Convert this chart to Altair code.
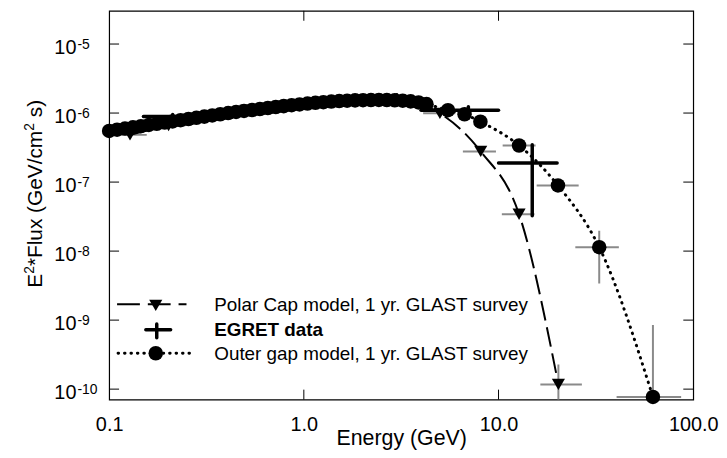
import altair as alt
import pandas as pd

# ---------------- data ----------------
# Outer gap model, 1 yr. GLAST survey (circles, dotted line)
og_E = [0.1, 0.1098, 0.1206, 0.1325, 0.1455, 0.1599, 0.1756, 0.1929, 0.2118, 0.2327,
        0.2556, 0.2807, 0.3083, 0.3386, 0.3720, 0.4086, 0.4487, 0.4929, 0.5414, 0.5947,
        0.6531, 0.7174, 0.7880, 0.8655, 0.9506, 1.044, 1.147, 1.260, 1.384, 1.520,
        1.669, 1.833, 2.014, 2.212, 2.429, 2.668, 2.931, 3.219, 3.536, 3.884,
        4.266, 5.5, 6.69, 8.07, 12.75, 20.2, 32.9, 62.1]
og_F = [5.51e-7, 5.74e-7, 5.97e-7, 6.21e-7, 6.46e-7, 6.72e-7, 6.99e-7, 7.28e-7, 7.57e-7, 7.88e-7,
        8.20e-7, 8.53e-7, 8.88e-7, 9.24e-7, 9.61e-7, 1.00e-6, 1.037e-6, 1.072e-6, 1.108e-6, 1.145e-6,
        1.184e-6, 1.224e-6, 1.260e-6, 1.299e-6, 1.334e-6, 1.374e-6, 1.406e-6, 1.439e-6, 1.468e-6, 1.492e-6,
        1.512e-6, 1.527e-6, 1.537e-6, 1.543e-6, 1.548e-6, 1.543e-6, 1.532e-6, 1.512e-6, 1.477e-6, 1.424e-6,
        1.347e-6, 1.10e-6, 9.6e-7, 7.5e-7, 3.39e-7, 8.93e-8, 1.14e-8, 7.7e-11]

# Polar Cap model, 1 yr. GLAST survey (triangles, dashed line)
pc_E = [0.128, 0.202, 0.32, 0.505, 0.80, 1.27, 2.01, 3.18, 5.0, 8.1, 12.75, 20.3]
pc_F = [4.83e-7, 6.61e-7, 8.62e-7, 1.09e-6, 1.26e-6, 1.415e-6, 1.54e-6, 1.51e-6,
        9.9e-7, 2.78e-7, 3.42e-8, 1.17e-10]
pc_Elo = [0.105, 0.166, 0.263, 0.415, 0.658, 1.044, 1.653, 2.615, 4.1, 6.56, 10.4, 16.4]
pc_Ehi = [0.156, 0.246, 0.389, 0.614, 0.973, 1.544, 2.444, 3.867, 6.0, 9.7, 15.3, 26.8]

# Outer gap simulated-survey error bars (horizontal)
ogb_E_lo = [10.5, 15.7, 24.8, 40.4]
ogb_E_hi = [15.5, 25.8, 41.5, 86.7]
ogb_F = [3.39e-7, 8.93e-8, 1.14e-8, 7.7e-11]

# vertical survey error bars
vb_E = [20.3, 32.9, 62.1]
vb_lo = [1e-11, 3.38e-9, 1e-11]
vb_hi = [2.28e-10, 1.97e-8, 8.5e-10]

# EGRET data
eg_E = [0.212, 0.387, 0.707, 1.41, 3.0, 7.0, 14.9]
eg_Elo = [0.15, 0.3, 0.5, 1.0, 2.0, 4.0, 10.0]
eg_Ehi = [0.3, 0.5, 1.0, 2.0, 4.0, 10.0, 20.0]
eg_F = [8.9e-7, 1.0e-6, 1.2e-6, 1.45e-6, 1.6e-6, 1.10e-6, 1.89e-7]
eg_Flo = [8.3e-7, 9.4e-7, 1.13e-6, 1.37e-6, 1.4e-6, 9.8e-7, 3.24e-8]
eg_Fhi = [9.5e-7, 1.06e-6, 1.27e-6, 1.53e-6, 1.85e-6, 1.23e-6, 3.47e-7]

# axes
x_ticks = [0.1, 1.0, 10.0, 100.0]
x_inner_ticks = [1.0, 10.0]
y_ticks = [1e-10, 1e-9, 1e-8, 1e-7, 1e-6, 1e-5]
y_exps = ["-10", "-9", "-8", "-7", "-6", "-5"]

# y title pieces: (text, is_superscript)
y_title_parts = [("E", False), ("2", True), ("*Flux (GeV/cm", False), ("2", True), (" s)", False)]

legend_labels = ["Polar Cap model, 1 yr. GLAST survey", "EGRET data",
                 "Outer gap model, 1 yr. GLAST survey"]

# ---------------- chart ----------------
W, H = 589, 392
FONT = "Liberation Sans"
GRAY = "#8a8a8a"
CIRCLE = 215
TRI = 175

og = pd.DataFrame({"E": og_E, "F": og_F})
pc = pd.DataFrame({"E": pc_E, "F": pc_F, "Elo": pc_Elo, "Ehi": pc_Ehi})
ogb = pd.DataFrame({"Elo": ogb_E_lo, "Ehi": ogb_E_hi, "F": ogb_F})
vb = pd.DataFrame({"E": vb_E, "lo": vb_lo, "hi": vb_hi})
eg = pd.DataFrame({"E": eg_E, "Elo": eg_Elo, "Ehi": eg_Ehi, "F": eg_F,
                   "Flo": eg_Flo, "Fhi": eg_Fhi})
yt = pd.DataFrame({"v": y_ticks, "exp": y_exps})
xt = pd.DataFrame({"v": x_inner_ticks})
one = pd.DataFrame({"i": [0]})

xs = alt.Scale(type="log", domain=[0.1, 100])
ys = alt.Scale(type="log", domain=[10 ** -10.151, 10 ** -4.519])
xaxis = alt.Axis(values=x_ticks, labelExpr="format(datum.value, '.1f')",
                 domain=False, ticks=False, tickSize=0, grid=False, labelFlush=False,
                 labelOverlap=False, labelFont=FONT, labelFontSize=20, labelColor="black",
                 labelPadding=15, title="Energy (GeV)", titleFont=FONT, titleFontSize=21.5,
                 titleFontWeight="normal", titleColor="black", titlePadding=-7)


def X(f):
    return alt.X(f"{f}:Q", scale=xs, axis=xaxis)


def Y(f):
    return alt.Y(f"{f}:Q", scale=ys, axis=None)


layers = []

# gray error bars
layers.append(alt.Chart(pc).mark_rule(color=GRAY, strokeWidth=2, clip=True).encode(
    x=X("Elo"), x2="Ehi:Q", y=Y("F")))
layers.append(alt.Chart(ogb).mark_rule(color=GRAY, strokeWidth=2, clip=True).encode(
    x=X("Elo"), x2="Ehi:Q", y=Y("F")))
layers.append(alt.Chart(vb).mark_rule(color=GRAY, strokeWidth=2, clip=True).encode(
    x=X("E"), y=Y("lo"), y2="hi:Q"))

# EGRET crosses
layers.append(alt.Chart(eg).mark_rule(color="black", strokeWidth=3.5, strokeCap="round").encode(
    x=X("Elo"), x2="Ehi:Q", y=Y("F")))
layers.append(alt.Chart(eg).mark_rule(color="black", strokeWidth=3.5, strokeCap="round").encode(
    x=X("E"), y=Y("Flo"), y2="Fhi:Q"))

# model lines
layers.append(alt.Chart(pc).mark_line(color="black", strokeWidth=2, strokeDash=[20, 7],
                                      interpolate="monotone").encode(x=X("E"), y=Y("F")))
layers.append(alt.Chart(og).mark_line(color="black", strokeWidth=3, strokeDash=[0.5, 6],
                                      strokeCap="round", interpolate="monotone").encode(
    x=X("E"), y=Y("F")))

# markers
layers.append(alt.Chart(pc).mark_point(shape="triangle-down", filled=True, size=TRI,
                                       color="black", opacity=1).encode(x=X("E"), y=Y("F")))
layers.append(alt.Chart(og).mark_circle(size=CIRCLE, color="black", opacity=1).encode(
    x=X("E"), y=Y("F")))

# inward ticks
layers.append(alt.Chart(yt).mark_rule(color="black", strokeWidth=1).encode(
    y=Y("v"), x=alt.value(0), x2=alt.value(10)))
layers.append(alt.Chart(yt).mark_rule(color="black", strokeWidth=1).encode(
    y=Y("v"), x=alt.value(W), x2=alt.value(W - 10)))
layers.append(alt.Chart(xt).mark_rule(color="black", strokeWidth=1).encode(
    x=X("v"), y=alt.value(H), y2=alt.value(H - 10)))
layers.append(alt.Chart(xt).mark_rule(color="black", strokeWidth=1).encode(
    x=X("v"), y=alt.value(0), y2=alt.value(10)))

# y tick labels 10^n
layers.append(alt.Chart(yt).mark_text(font=FONT, fontSize=20, align="right",
                                      baseline="alphabetic", dy=10, color="black").encode(
    y=Y("v"), x=alt.value(-33), text=alt.value("10")))
layers.append(alt.Chart(yt).mark_text(font=FONT, fontSize=14, align="left",
                                      baseline="alphabetic", dy=5, color="black").encode(
    y=Y("v"), x=alt.value(-32), text="exp:N"))

# y title, built from pieces so the superscripts keep a readable size
# advance widths of Liberation Sans (Arial metrics), units per 1000 em
ADV = {"E": 667, "2": 556, "*": 389, "F": 611, "l": 222, "u": 556, "x": 500, " ": 278,
       "(": 333, "G": 778, "e": 556, "V": 667, "/": 278, "c": 500, "m": 833, "s": 500, ")": 333}
MAIN_FS, SUP_FS = 21, 14
widths = [sum(ADV[c] for c in t) * (SUP_FS if sup else MAIN_FS) / 1000 for t, sup in y_title_parts]
pos = 184.5 + sum(widths) / 2
for (t, sup), w in zip(y_title_parts, widths):
    fs = SUP_FS if sup else MAIN_FS
    lead = (len(t) - len(t.lstrip())) * ADV[" "] * fs / 1000
    layers.append(alt.Chart(one).mark_text(font=FONT, fontSize=fs,
                                           angle=270, align="left", baseline="alphabetic",
                                           color="black").encode(
        x=alt.value(-76 if sup else -68), y=alt.value(pos - lead), text=alt.value(t.strip())))
    pos -= w

# legend
r1, r2, r3 = 296, 321.7, 345.3
layers.append(alt.Chart(one).mark_rule(color="black", strokeWidth=2, strokeDash=[23, 8]).encode(
    x=alt.value(8), x2=alt.value(78), y=alt.value(r1)))
layers.append(alt.Chart(one).mark_point(shape="triangle-down", filled=True, size=TRI,
                                        color="black", opacity=1).encode(
    x=alt.value(47), y=alt.value(r1 + 1)))
layers.append(alt.Chart(one).mark_rule(color="black", strokeWidth=3.5, strokeCap="round").encode(
    x=alt.value(37), x2=alt.value(62), y=alt.value(r2)))
layers.append(alt.Chart(one).mark_rule(color="black", strokeWidth=3.5, strokeCap="round").encode(
    x=alt.value(48), y=alt.value(r2 - 6), y2=alt.value(r2 + 8)))
layers.append(alt.Chart(one).mark_rule(color="black", strokeWidth=3, strokeDash=[0.5, 6],
                                       strokeCap="round").encode(
    x=alt.value(9), x2=alt.value(83), y=alt.value(r3)))
layers.append(alt.Chart(one).mark_circle(size=CIRCLE, color="black", opacity=1).encode(
    x=alt.value(47), y=alt.value(r3)))
for lab, ry, wt in zip(legend_labels, [r1, r2, r3], ["normal", "bold", "normal"]):
    layers.append(alt.Chart(one).mark_text(font=FONT, fontSize=19, fontWeight=wt, align="left",
                                           baseline="alphabetic", color="black").encode(
        x=alt.value(106), y=alt.value(ry + 6.5), text=alt.value(lab)))

chart = alt.layer(*layers).properties(
    width=W, height=H,
    autosize=alt.AutoSizeParams(type="none"),
    padding={"left": 102, "top": 1, "right": 26, "bottom": 49},
    background="white",
).configure_view(stroke="black", strokeWidth=1.2)

chart.save("out.html", embed_options={"renderer": "svg", "actions": False})
